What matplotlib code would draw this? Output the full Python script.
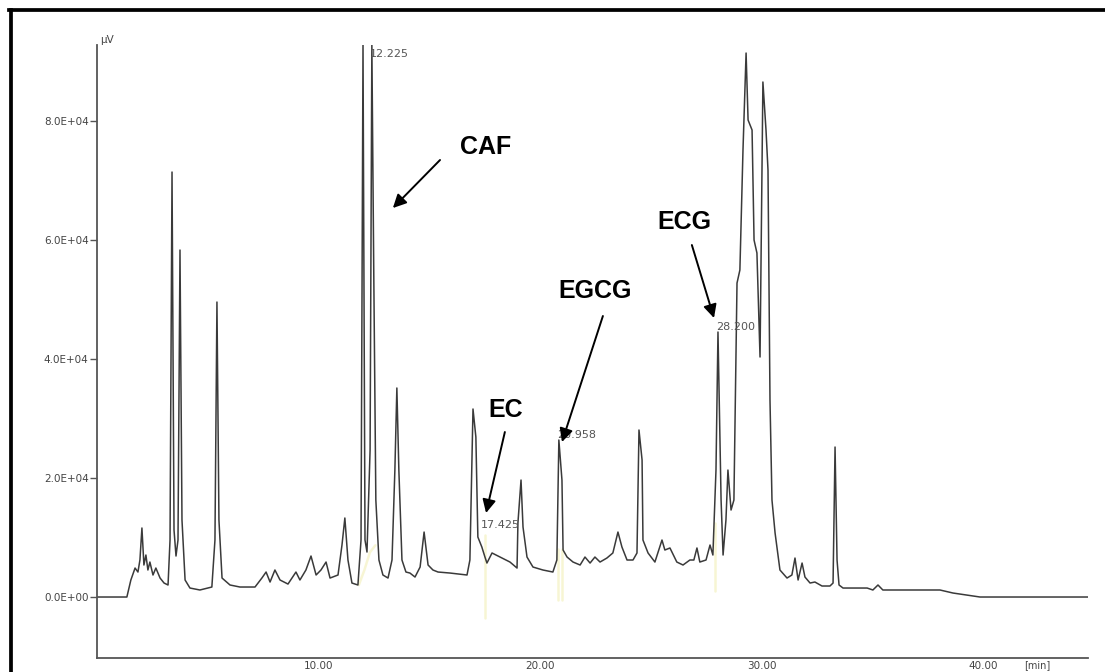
import matplotlib
matplotlib.use("Agg")
import matplotlib.pyplot as plt
from matplotlib.lines import Line2D

# chromatogram trace: retention time (min) and signal (uV)
time_min = [0.00, 1.32, 1.50, 1.69, 1.82, 1.91, 2.00, 2.09, 2.18, 2.27, 2.36, 2.50, 2.63, 2.82, 3.00,
            3.18, 3.27, 3.36, 3.45, 3.54, 3.63, 3.72, 3.81, 3.95, 4.17, 4.62, 5.16, 5.30, 5.39, 5.48,
            5.62, 5.98, 6.43, 7.11, 7.42, 7.61, 7.79, 8.01, 8.24, 8.60, 8.96, 9.14, 9.41, 9.64, 9.87,
            10.09, 10.32, 10.50, 10.86, 11.04, 11.17, 11.31, 11.49, 11.76, 11.90, 11.99, 12.08, 12.17,
            12.31, 12.39, 12.48, 12.57, 12.71, 12.89, 13.12, 13.30, 13.43, 13.52, 13.61, 13.75, 13.93,
            14.11, 14.34, 14.57, 14.75, 14.93, 15.15, 15.38, 15.92, 16.69, 16.82, 16.96, 17.09, 17.18,
            17.36, 17.50, 17.59, 17.82, 18.18, 18.63, 18.95, 18.99, 19.13, 19.22, 19.40, 19.67, 20.12,
            20.57, 20.75, 20.84, 20.98, 21.03, 21.21, 21.48, 21.80, 22.02, 22.25, 22.47, 22.70, 23.01,
            23.28, 23.51, 23.69, 23.92, 24.19, 24.37, 24.46, 24.60, 24.64, 24.87, 25.18, 25.50, 25.63,
            25.86, 26.17, 26.45, 26.76, 26.94, 27.08, 27.21, 27.49, 27.67, 27.80, 27.94, 28.03, 28.17,
            28.26, 28.39, 28.48, 28.62, 28.75, 28.89, 29.02, 29.16, 29.30, 29.39, 29.57, 29.66, 29.79,
            29.93, 30.06, 30.20, 30.29, 30.38, 30.47, 30.61, 30.83, 31.15, 31.37, 31.51, 31.65, 31.83,
            31.96, 32.19, 32.41, 32.73, 33.09, 33.23, 33.32, 33.41, 33.50, 33.68, 34.77, 35.03, 35.26,
            35.48, 38.06, 38.65, 39.87, 44.75]
signal_uv = [0, 0, 2860, 4870, 4200, 6220, 11600, 5380, 7060, 4540, 5880, 3700, 4870, 3190, 2350,
             2020, 9580, 71430, 11260, 6890, 9580, 58320, 12940, 2860, 1510, 1180, 1680, 9580, 49580, 12940,
             3190, 2020, 1680, 1680, 3190, 4200, 2520, 4540, 2860, 2180, 4200, 2860, 4540, 6890, 3700,
             4540, 5880, 3190, 3700, 8740, 13280, 6220, 2350, 2020, 9580, 92780, 9580, 7560,
             24710, 92780, 52770, 16300, 6220, 3700, 3190, 6220, 21340, 35130, 21340, 6220, 4200,
             4030, 3360, 5040, 10920, 5380, 4540, 4200, 4030, 3700, 6220, 31600, 26890, 10080,
             8400, 6720, 5710, 7400, 6720, 5880, 4870, 12440, 19660, 11760, 6720, 5040, 4540,
             4200, 6220, 26390, 19660, 7900, 6720, 5880, 5380, 6720, 5710, 6720, 5880, 6550,
             7400, 10920, 8400, 6220, 6220, 7400, 28070, 23030, 9580, 7400, 5880, 9580, 7900,
             8240, 5880, 5380, 6220, 6220, 8240, 5880, 6220, 8740, 7060, 21340, 44540, 16300,
             7060, 12940, 21340, 14620, 16300, 52770, 54960, 75130, 91430, 80170, 78490, 60000, 57820,
             40340, 86560, 78490, 71770, 33110, 16300, 10760, 4540, 3190, 3700, 6550, 2860, 5710,
             3360, 2350, 2520, 1850, 1850, 2350, 25210, 6220, 2020, 1510, 1510, 1180, 2020,
             1180, 1180, 670, 0, 0]

# integrated peaks with their retention-time labels
peak_times = [12.39, 17.40, 20.84, 28.03]
peak_label_y = [90500, 11300, 26390, 44540]
peak_labels = ["12.225", "17.425", "20.958", "28.200"]

# faint yellow integration marks (start/end of each integrated peak)
mark_times = [[11.80, 12.05, 12.30, 12.55], [17.48, 17.48], [20.78, 20.78], [21.00, 21.00], [27.88, 27.88]]
mark_values = [[2000, 4500, 7500, 8700], [10500, -3500], [8000, -500], [8000, -500], [12500, 1000]]

# compound annotations: name, text position, arrow tail, arrow head
names = ["CAF", "EC", "EGCG", "ECG"]
name_pos = [(17.55, 75630), (18.45, 31430), (22.47, 51430), (26.49, 63030)]
arrow_tail = [(15.47, 73450), (18.40, 27730), (22.83, 47230), (26.85, 59160)]
arrow_head = [(13.34, 65380), (17.55, 14120), (20.98, 26050), (27.85, 46890)]

y_ticks = [0, 20000, 40000, 60000, 80000]
y_ticklabels = ["0.0E+00", "2.0E+04", "4.0E+04", "6.0E+04", "8.0E+04"]
x_ticks = [10, 20, 30, 40]
x_ticklabels = ["10.00", "20.00", "30.00", "40.00"]

fig = plt.figure(figsize=(11.05, 6.72), dpi=100)
ax = fig.add_axes([97 / 1105, 14 / 672, 991 / 1105, 613 / 672])

for mt, mv in zip(mark_times, mark_values):
    ax.plot(mt, mv, color="#f4f2c2", lw=1.8, alpha=0.7, solid_capstyle="round")

ax.plot(time_min, signal_uv, color="#3a3a3a", lw=1.1)

ax.set_xlim(-0.03, 44.75)
ax.set_ylim(-10250, 92780)

for s in ["top", "right"]:
    ax.spines[s].set_visible(False)
for s in ["left", "bottom"]:
    ax.spines[s].set_color("#555555")
    ax.spines[s].set_linewidth(1.3)

ax.set_yticks(y_ticks)
ax.set_yticklabels(y_ticklabels, fontsize=7.5, color="#444444")
ax.tick_params(axis="y", length=5, width=1, color="#555555", pad=1)
ax.set_xticks(x_ticks)
ax.set_xticklabels(x_ticklabels, fontsize=7.5, color="#444444")
ax.tick_params(axis="x", length=0, pad=2)

ax.text(0.1, 1.0, "\u03bcV", transform=ax.get_xaxis_transform(), fontsize=7.5,
        color="#444444", ha="left", va="bottom")
ax.text(42.45, -0.004, "[min]", transform=ax.get_xaxis_transform(), fontsize=7,
        color="#444444", ha="center", va="top")

for t, h, lab in zip(peak_times, peak_label_y, peak_labels):
    ax.text(t - 0.1, h, lab, fontsize=8, color="#555555", ha="left", va="bottom")

for name, p, a, b in zip(names, name_pos, arrow_tail, arrow_head):
    ax.text(p[0], p[1], name, fontsize=18, fontweight="bold", family="Liberation Sans",
            ha="center", va="center", color="black")
    ax.annotate("", xy=b, xytext=a,
                arrowprops=dict(arrowstyle="-|>", color="black", lw=1.4,
                                mutation_scale=20, shrinkA=0, shrinkB=0))

# thick outer frame, cut off at right and bottom
fig.add_artist(Line2D([10.5 / 1105, 10.5 / 1105], [0, 1 - 10 / 672], transform=fig.transFigure,
                      color="black", lw=2.7))
fig.add_artist(Line2D([9 / 1105, 1], [1 - 10 / 672, 1 - 10 / 672], transform=fig.transFigure,
                      color="black", lw=2.7))

fig.savefig("out.png", dpi=100)
